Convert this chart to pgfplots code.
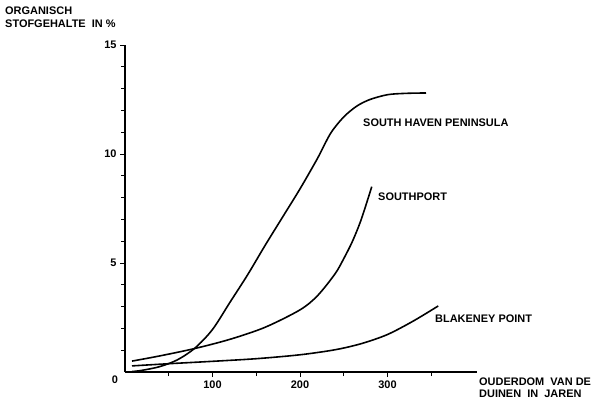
\documentclass[border=0pt]{standalone}
\usepackage{fontspec}
\setmainfont{Liberation Sans}
\usepackage{pgfplots}
\pgfplotsset{compat=1.18}
\begin{document}
\begin{tikzpicture}
\useasboundingbox (0,0) rectangle (593bp,400bp);
\begin{axis}[
  at={(125bp,28bp)}, anchor=origin,
  x=0.875bp, y=21.8bp,
  xmin=0, xmax=402, ymin=0, ymax=15,
  axis x line=bottom, axis y line=left,
  axis line style={-, line width=1.1pt},
  xtick={100,200,300}, minor xtick={50,150,250,350},
  ytick={5,10,15}, minor ytick={1,2,3,4,6,7,8,9,11,12,13,14},
  tick align=outside, major tick length=5bp, minor tick length=4bp,
  tick style={black, line width=0.9pt},
  tick label style={font=\fontsize{11}{13}\selectfont\bfseries},
  /pgf/number format/assume math mode=true,
  clip=false,
]
% South Haven Peninsula
\addplot[black, line width=1.6pt, smooth] coordinates {
 (8,0.02) (20,0.08) (40,0.25) (60,0.56) (80,1.1) (100,1.95) (120,3.2)
 (140,4.45) (160,5.8) (180,7.1) (200,8.4) (220,9.8) (235,10.95) (250,11.7)
 (265,12.2) (280,12.5) (300,12.72) (320,12.78) (344,12.8)
};
% Southport
\addplot[black, line width=1.6pt, smooth] coordinates {
 (8,0.5) (40,0.74) (80,1.08) (120,1.5) (160,2.05) (200,2.85) (220,3.5)
 (240,4.5) (250,5.2) (260,6.0) (270,7.0) (282,8.5)
};
% Blakeney Point
\addplot[black, line width=1.6pt, smooth] coordinates {
 (8,0.28) (50,0.38) (100,0.49) (150,0.61) (200,0.79) (240,1.02)
 (270,1.3) (300,1.72) (330,2.35) (358,3.03)
};
\end{axis}
\begin{scope}[every node/.style={font=\fontsize{11}{13}\selectfont\bfseries, inner sep=0pt}]
\node[anchor=base west] at (5bp,385bp) {ORGANISCH};
\node[anchor=base west] at (5bp,372bp) {STOFGEHALTE\ \ IN \%};
\node[anchor=base west] at (479bp,15bp) {OUDERDOM\ \ VAN DE};
\node[anchor=base west] at (479bp,3bp) {DUINEN\ \ IN\ \ JAREN};
\node[anchor=base west] at (363bp,273bp) {SOUTH HAVEN PENINSULA};
\node[anchor=base west] at (378bp,199bp) {SOUTHPORT};
\node[anchor=base west] at (435bp,77bp) {BLAKENEY POINT};
\node at (115bp,20bp) {0};
\end{scope}
\end{tikzpicture}
\end{document}
